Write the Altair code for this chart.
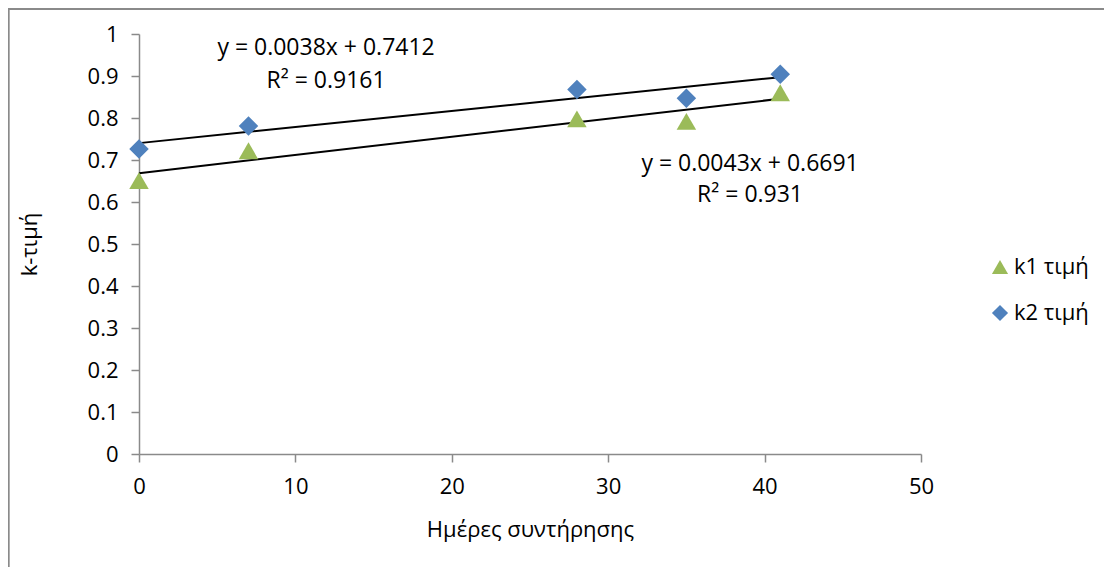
import altair as alt
import pandas as pd

days = [0, 7, 28, 35, 41]
k1 = [0.651, 0.722, 0.798, 0.792, 0.860]
k2 = [0.726, 0.781, 0.868, 0.847, 0.904]
series_names = ["k1 τιμή", "k2 τιμή"]

eq_texts = ["y = 0.0038x + 0.7412", "R² = 0.9161", "y = 0.0043x + 0.6691", "R² = 0.931"]
eq_x = [11.96, 11.96, 39.07, 39.07]
eq_y = [0.967, 0.888, 0.690, 0.617]

FONT = "Open Sans"
FS = 23

rows = []
for d, a, b in zip(days, k1, k2):
    rows.append({"day": d, "k": a, "series": series_names[0]})
    rows.append({"day": d, "k": b, "series": series_names[1]})
df = pd.DataFrame(rows)
ann = pd.DataFrame({"t": eq_texts, "x": eq_x, "y": eq_y})

xs = alt.Scale(domain=[0, 50], nice=False)
ys = alt.Scale(domain=[0, 1], nice=False)

xax = alt.Axis(values=[0, 10, 20, 30, 40, 50], grid=False, tickSize=8, labelPadding=14,
               labelFlush=False, title="Ημέρες συντήρησης", titlePadding=22)
yax = alt.Axis(values=[i / 10 for i in range(11)], grid=False, tickSize=8, labelPadding=13,
               labelFlush=False, format="~g", title="k-τιμή", titlePadding=46)

leg = alt.Legend(title=None, orient="none", legendX=850, legendY=222,
                 symbolSize=260, rowPadding=24, labelFontSize=FS - 1,
                 labelFont=FONT, labelOffset=3)

points = alt.Chart(df).mark_point(filled=True, opacity=1, size=380).encode(
    x=alt.X("day:Q", scale=xs, axis=xax),
    y=alt.Y("k:Q", scale=ys, axis=yax),
    color=alt.Color("series:N", scale=alt.Scale(domain=series_names, range=["#9BBB59", "#4F81BD"]),
                    legend=leg),
    shape=alt.Shape("series:N", scale=alt.Scale(domain=series_names, range=["triangle-up", "diamond"]),
                    legend=leg),
)

lines = alt.Chart(df).transform_regression(
    "day", "k", groupby=["series"], extent=[0, 41]
).mark_line(color="black", strokeWidth=2).encode(
    x=alt.X("day:Q", scale=xs),
    y=alt.Y("k:Q", scale=ys),
    detail="series:N",
)

texts = alt.Chart(ann).mark_text(font=FONT, fontSize=FS, color="black").encode(
    x=alt.X("x:Q", scale=xs),
    y=alt.Y("y:Q", scale=ys),
    text="t:N",
)

border_l = alt.Chart(ann).mark_rule(color="#8a8a8a", strokeWidth=1.5).encode(
    x=alt.value(-130.5), y=alt.value(-25), y2=alt.value(600))
border_t = alt.Chart(ann).mark_rule(color="#8a8a8a", strokeWidth=1.5).encode(
    x=alt.value(-131), x2=alt.value(1200), y=alt.value(-25))

chart = alt.layer(lines, points, texts, border_l, border_t).properties(
    width=782, height=420,
    background="white",
    autosize=alt.AutoSizeParams(type="none"),
    padding={"left": 131, "top": 26, "right": 183, "bottom": 113},
).configure_view(stroke=None).configure_axis(
    domainColor="#8a8a8a", tickColor="#8a8a8a", domainWidth=1.5, tickWidth=1.5,
    labelFont=FONT, labelFontSize=FS - 1, labelColor="black",
    titleFont=FONT, titleFontSize=FS - 1, titleColor="black", titleFontWeight="normal",
)

chart.save("out.html", embed_options={"renderer": "svg", "actions": False})
